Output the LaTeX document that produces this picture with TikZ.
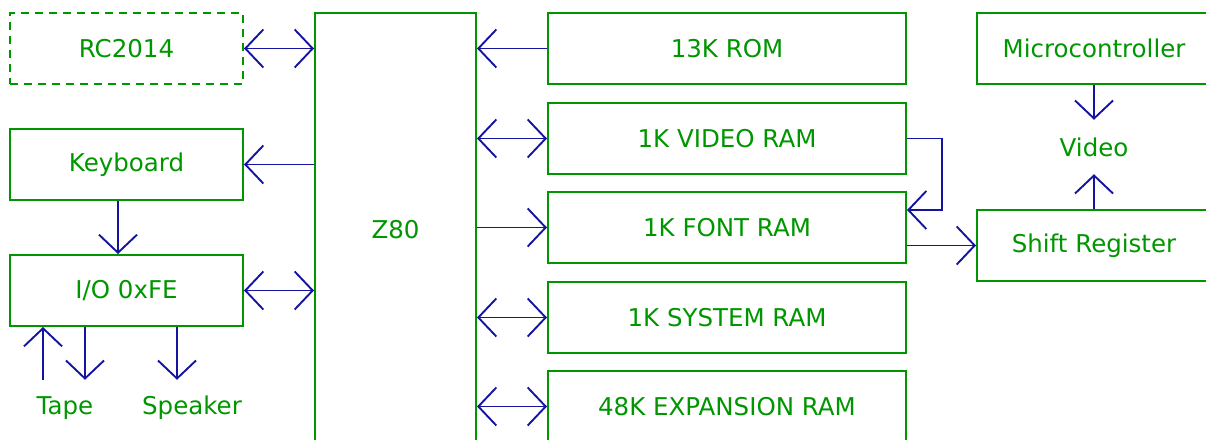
\documentclass[tikz,border=0pt]{standalone}
\usepackage{fontspec}
\setmainfont{DejaVu Sans}
\usetikzlibrary{arrows.meta}
\definecolor{boxgreen}{RGB}{0,150,0}
\definecolor{wireblue}{RGB}{20,20,160}
\begin{document}
\begin{tikzpicture}[x=1pt,y=-1pt,
  txt/.style={text=boxgreen, font=\fontsize{24.5}{28}\selectfont, inner sep=0pt},
  blk/.style={txt, draw=boxgreen, line width=2pt, minimum width=233pt, minimum height=71pt},
  rblk/.style={blk, minimum width=358pt},
  lbl/.style={txt, minimum height=56pt},
  wire/.style={draw=wireblue, line width=1.9pt},
  tip/.style={-{Straight Barb[length=18pt,width=38pt]}},
  bitip/.style={{Straight Barb[length=18pt,width=38pt]}-{Straight Barb[length=18pt,width=38pt]}}
]
\useasboundingbox (0,0) rectangle (1206,439);
\clip (0,0) rectangle (1206,439);
% left column
\node[blk, dash pattern=on 8pt off 6pt] (rc) at (126.5,48.5) {RC2014};
\node[blk] (kb) at (126.5,164.5) {Keyboard};
\node[blk] (io) at (126.5,290.5) {I/O 0xFE};
\node[lbl] (tape) at (65,408) {Tape};
\node[lbl] (spk) at (192,408) {Speaker};
% CPU
\node[blk, minimum width=161pt, minimum height=434pt] (z80) at (395.5,230) {Z80};
% memories
\node[rblk] (rom) at (727,48.5) {13K ROM};
\node[rblk] (vram) at (727,138.5) {1K VIDEO RAM};
\node[rblk] (fram) at (727,227.5) {1K FONT RAM};
\node[rblk] (sram) at (727,317.5) {1K SYSTEM RAM};
\node[rblk] (xram) at (727,406.5) {48K EXPANSION RAM};
% video side
\node[blk, minimum width=234pt] (mcu) at (1094,48.5) {Microcontroller};
\node[blk, minimum width=234pt] (shift) at (1094,245.5) {Shift Register};
\node[txt, minimum height=54pt] (video) at (1094,147) {Video};
\coordinate (bend) at (942,138.5);
% connectors
\draw[wire,bitip] (rc.east) -- (rc.east -| z80.west);
\draw[wire,tip] (kb.east -| z80.west) -- (kb.east);
\draw[wire,tip] ([xshift=-8.5pt]kb.south) -- ([xshift=-8.5pt]kb.south |- io.north);
\draw[wire,bitip] (io.east) -- (io.east -| z80.west);
\draw[wire,tip] ([xshift=-22pt]tape.north) -- ([xshift=-22pt]tape.north |- io.south);
\draw[wire,tip] ([xshift=20pt]tape.north |- io.south) -- ([xshift=20pt]tape.north);
\draw[wire,tip] ([xshift=-15pt]spk.north |- io.south) -- ([xshift=-15pt]spk.north);
\draw[wire,tip] (rom.west) -- (rom.west -| z80.east);
\draw[wire,bitip] (z80.east |- vram.west) -- (vram.west);
\draw[wire,tip] (z80.east |- fram.west) -- (fram.west);
\draw[wire,bitip] (z80.east |- sram.west) -- (sram.west);
\draw[wire,bitip] (z80.east |- xram.west) -- (xram.west);
\draw[wire,tip] (vram.east) -- (bend) |- ([yshift=17.5pt]fram.east);
\draw[wire,tip] (fram.east |- shift.west) -- (shift.west);
\draw[wire,tip] (mcu.south) -- (video.north);
\draw[wire,tip] (shift.north) -- (video.south);
\end{tikzpicture}
\end{document}
